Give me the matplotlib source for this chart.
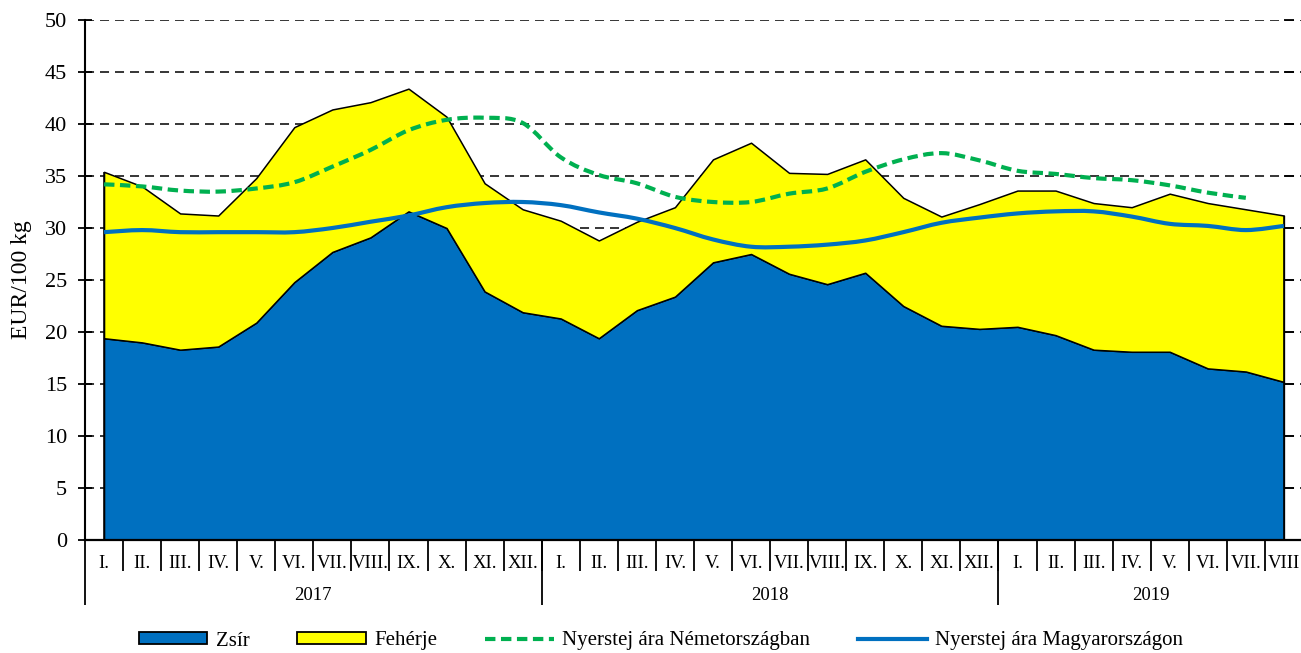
import numpy as np
import matplotlib
matplotlib.use('Agg')
import matplotlib.pyplot as plt
from matplotlib.path import Path
from matplotlib.patches import PathPatch, Patch
from matplotlib.lines import Line2D

plt.rcParams['font.family'] = ['Liberation Serif', 'DejaVu Serif']
plt.rcParams['lines.scale_dashes'] = False

# ── data ─────────────────────────────────────────────────────
months = ['I.', 'II.', 'III.', 'IV.', 'V.', 'VI.', 'VII.', 'VIII.', 'IX.', 'X.', 'XI.', 'XII.',
          'I.', 'II.', 'III.', 'IV.', 'V.', 'VI.', 'VII.', 'VIII.', 'IX.', 'X.', 'XI.', 'XII.',
          'I.', 'II.', 'III.', 'IV.', 'V.', 'VI.', 'VII.', 'VIII']
years = ['2017', '2018', '2019']
year_len = [12, 12, 8]

zsir = [19.4, 19.0, 18.3, 18.6, 20.9, 24.8, 27.7, 29.1, 31.6, 30.0, 23.9, 21.9,
        21.3, 19.4, 22.1, 23.4, 26.7, 27.5, 25.6, 24.6, 25.7, 22.5, 20.6, 20.3,
        20.5, 19.7, 18.3, 18.1, 18.1, 16.5, 16.2, 15.2]
total = [35.4, 34.0, 31.4, 31.2, 34.8, 39.7, 41.4, 42.1, 43.4, 40.7, 34.3, 31.8,
         30.7, 28.8, 30.6, 32.0, 36.6, 38.2, 35.3, 35.2, 36.6, 32.9, 31.1, 32.3,
         33.6, 33.6, 32.4, 32.0, 33.3, 32.4, 31.8, 31.2]
feherje = [t - z for t, z in zip(total, zsir)]

germany = [34.2, 34.0, 33.6, 33.5, 33.8, 34.4, 35.9, 37.5, 39.4, 40.4, 40.6, 40.1,
           36.8, 35.1, 34.3, 33.0, 32.5, 32.5, 33.3, 33.8, 35.4, 36.6, 37.2, 36.5,
           35.5, 35.2, 34.8, 34.6, 34.1, 33.4, 32.9]
hungary = [29.6, 29.8, 29.6, 29.6, 29.6, 29.6, 30.0, 30.6, 31.2, 32.0, 32.4, 32.5,
           32.2, 31.5, 30.9, 30.0, 28.9, 28.2, 28.2, 28.4, 28.8, 29.6, 30.5, 31.0,
           31.4, 31.6, 31.6, 31.1, 30.4, 30.2, 29.8, 30.2]

BLUE = '#0070C0'
YELLOW = '#FFFF00'
GREEN = '#00B050'


def smooth_path(y):
    # Excel-style smoothed line: Catmull-Rom segments as cubic Beziers
    x = np.arange(len(y), dtype=float)
    y = np.asarray(y, dtype=float)
    verts = [(x[0], y[0])]
    codes = [Path.MOVETO]
    n = len(y)
    for i in range(n - 1):
        p0 = (x[max(i - 1, 0)], y[max(i - 1, 0)])
        p1 = (x[i], y[i])
        p2 = (x[i + 1], y[i + 1])
        p3 = (x[min(i + 2, n - 1)], y[min(i + 2, n - 1)])
        c1 = (p1[0] + (p2[0] - p0[0]) / 6, p1[1] + (p2[1] - p0[1]) / 6)
        c2 = (p2[0] - (p3[0] - p1[0]) / 6, p2[1] - (p3[1] - p1[1]) / 6)
        verts += [c1, c2, p2]
        codes += [Path.CURVE4] * 3
    return Path(verts, codes)


W, H = 1301, 653
fig = plt.figure(figsize=(W / 100, H / 100), dpi=100)
cat_w = 38.06
ax = fig.add_axes([85 / W, 1 - 540 / H, 32 * cat_w / W, 520 / H])

x = np.arange(len(zsir))
ax.fill_between(x, 0, zsir, facecolor=BLUE, edgecolor='black', linewidth=1.1, zorder=2)
ax.fill_between(x, zsir, total, facecolor=YELLOW, edgecolor='black', linewidth=1.1, zorder=2)
ax.vlines([x[0], x[-1]], 0, [total[0], total[-1]], color='black', linewidth=1.1, zorder=3)

ax.add_patch(PathPatch(smooth_path(germany), fill=False, edgecolor=GREEN, linewidth=3.0,
                       linestyle=(0, (7.5, 4)), zorder=4))
ax.add_patch(PathPatch(smooth_path(hungary), fill=False, edgecolor=BLUE, linewidth=3.0,
                       zorder=4))

ax.set_xlim(-0.5, 31.5)
ax.set_ylim(0, 50)
ax.set_yticks(np.arange(0, 51, 5))
ax.yaxis.grid(True, color='black', linewidth=1.1, linestyle=(0, (6.5, 4.3)), zorder=0)
ax.set_axisbelow(True)
ax.tick_params(axis='y', direction='inout', length=10, width=1.3, labelsize=16, pad=8)
ax.set_ylabel('EUR/100 kg', fontsize=17, labelpad=9)

for s in ['top', 'right']:
    ax.spines[s].set_visible(False)
ax.spines['left'].set_linewidth(1.5)
ax.spines['bottom'].set_linewidth(1.6)

# month labels at category centres, separators between categories
ax.set_xticks(x)
ax.set_xticklabels(months, fontsize=13.5)
ax.tick_params(axis='x', which='major', length=0, pad=11)
ax.set_xticks(np.arange(0.5, 31, 1), minor=True)
ax.tick_params(axis='x', which='minor', direction='out', length=22.5, width=1.3)

# year separators and labels
xt = ax.get_xaxis_transform()
start = 0
bounds = [-0.5]
for yr, n in zip(years, year_len):
    ax.text(start + (n - 1) / 2, -55 / 520, yr, transform=xt, ha='center', va='center',
            fontsize=13.5)
    start += n
    bounds.append(start - 0.5)
ax.vlines(bounds[:-1], -65 / 520, 0, transform=xt, color='black', linewidth=1.3,
          clip_on=False)

# secondary axis ticks at the last category
ax2 = ax.twinx()
ax2.set_ylim(0, 50)
ax2.set_yticks(np.arange(0, 51, 5))
ax2.set_yticklabels([])
ax2.spines['right'].set_position(('data', 31))
for s in ['top', 'left', 'bottom', 'right']:
    ax2.spines[s].set_visible(False)
ax2.tick_params(axis='y', direction='out', length=7, width=1.3)

handles = [
    Patch(facecolor=BLUE, edgecolor='black', linewidth=1.3, label='Zsír'),
    Patch(facecolor=YELLOW, edgecolor='black', linewidth=1.3, label='Fehérje'),
    Line2D([], [], color=GREEN, linewidth=3.0, linestyle=(0, (7.5, 4)),
           label='Nyerstej ára Németországban'),
    Line2D([], [], color=BLUE, linewidth=3.0, label='Nyerstej ára Magyarországon'),
]
fig.legend(handles=handles, loc='center', bbox_to_anchor=(661 / W, 1 - 641 / H), ncol=4,
           frameon=False, fontsize=15, handlelength=3.3, handleheight=0.55,
           handletextpad=0.4, columnspacing=2.3)

fig.savefig('out.png', dpi=100)
